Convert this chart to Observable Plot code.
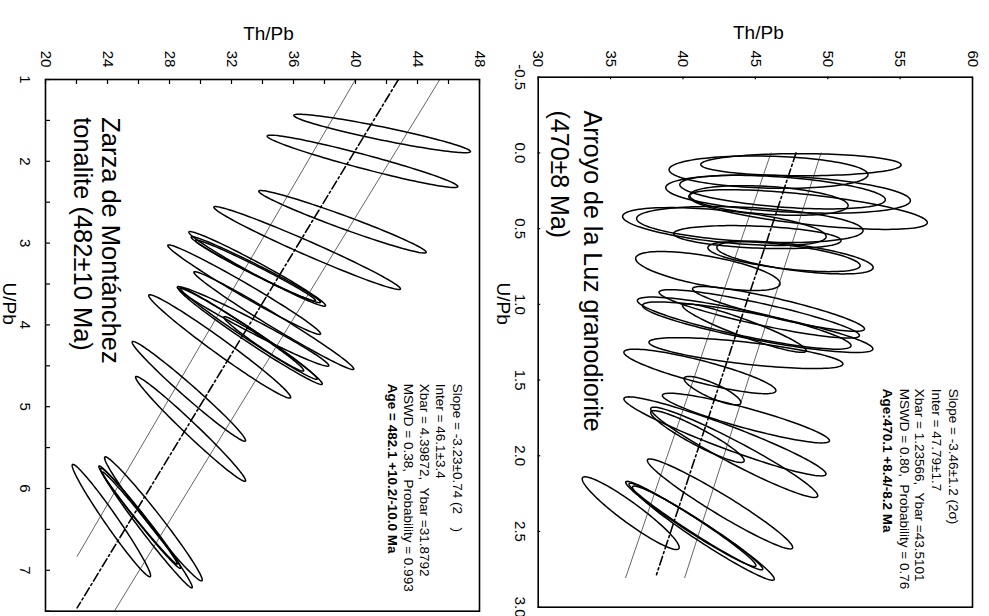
<!DOCTYPE html>
<html><head><meta charset="utf-8">
<script src="https://cdn.jsdelivr.net/npm/d3@7"></script>
<script src="https://cdn.jsdelivr.net/npm/@observablehq/plot@0.6"></script>
<style>
body{margin:0;background:#fff;}
#wrap{position:relative;width:989px;height:616px;overflow:hidden;background:#fff;}
#wrap svg{position:absolute;top:0;overflow:visible;}
</style></head><body><div id="wrap"></div>
<script>
// ---------- Zarza de Montánchez tonalite (left panel) ----------
// error ellipses: centre Th/Pb, centre U/Pb, half-range Th/Pb, half-range U/Pb, correlation
const zarzaTh  = [41.72, 40.45, 39.16, 36.88, 33.66, 33.57, 33.55, 32.82, 34.73, 33.39, 33.22, 33.12, 31.24, 34.08, 29.25, 29.36, 24.25, 26.08, 26.51, 26.96, 26.08];
const zarzaU   = [1.66, 2.00, 2.739, 3.06, 3.315, 3.325, 3.335, 3.569, 3.947, 4.018, 4.138, 4.107, 4.263, 4.232, 4.812, 5.271, 6.392, 6.35, 6.483, 6.371, 6.361];
const zarzaSTh = [5.70, 6.15, 5.40, 6.02, 4.41, 4.17, 3.87, 4.93, 5.16, 4.89, 4.64, 4.41, 4.58, 2.58, 3.66, 3.55, 2.53, 2.64, 2.96, 3.15, 2.42];
const zarzaSU  = [0.235, 0.320, 0.382, 0.507, 0.456, 0.403, 0.372, 0.547, 0.598, 0.487, 0.590, 0.558, 0.632, 0.333, 0.610, 0.641, 0.687, 0.626, 0.732, 0.758, 0.564];
const zarzaRho = [0.938, 0.961, 0.975, 0.983, 0.983, 0.9855, 0.986, 0.986, 0.988, 0.983, 0.987, 0.9895, 0.984, 0.980, 0.985, 0.9855, 0.980, 0.990, 0.9885, 0.9837, 0.9929];
// regression line and error envelope (end points: Th/Pb, U/Pb)
const zarzaFitTh = [42.77, 22.04], zarzaFitU = [1.0, 7.46];
const zarzaLoTh  = [40.0, 22.04],  zarzaLoU  = [1.0, 6.83];
const zarzaHiTh  = [45.44, 24.44], zarzaHiU  = [1.0, 7.5];
const zarzaThTicks = [20,22,24,26,28,30,32,34,36,38,40,42,44,46,48];
const zarzaThLabels = [20,24,28,32,36,40,44,48];
const zarzaUTicks = [1,1.5,2,2.5,3,3.5,4,4.5,5,5.5,6,6.5,7,7.5];
const zarzaULabels = [1,2,3,4,5,6,7];
const zarzaTitle = ["Zarza de Montánchez", "tonalite (482±10 Ma)"];
const zarzaStats = ["Slope = -3.23±0.74 (2\u2002\u2002)", "Inter = 46.1±3.4", "Xbar = 4.39872,  Ybar =31.8792", "MSWD = 0.38,  Probability = 0.993", "Age = 482.1 +10.2/-10.0 Ma"];

// ---------- Arroyo de la Luz granodiorite (right panel) ----------
const arroyoTh  = [48.15, 45.91, 47.26, 46.88, 48.64, 45.94, 42.86, 44.62, 45.14, 46.98, 47.74, 41.72, 44.23, 45.16, 45.27, 46.60, 44.24, 41.17, 44.35, 42.04, 44.35, 42.90, 43.54, 41.00, 42.56, 36.39, 40.54, 41.41, 40.89];
const arroyoU   = [0.078, 0.127, 0.272, 0.259, 0.374, 0.314, 0.486, 0.473, 0.556, 0.685, 0.691, 0.780, 1.124, 1.151, 1.063, 1.030, 1.157, 1.443, 1.322, 1.570, 1.751, 1.872, 1.977, 1.873, 2.318, 2.379, 2.450, 2.511, 2.467];
const arroyoSTh = [6.92, 6.87, 8.45, 7.10, 8.24, 5.47, 7.03, 7.82, 5.78, 5.26, 5.40, 4.99, 7.38, 7.96, 6.92, 5.94, 4.27, 5.25, 6.70, 1.96, 5.77, 6.98, 5.77, 3.23, 5.02, 3.35, 4.50, 4.90, 4.62];
const arroyoSU  = [0.073, 0.107, 0.126, 0.111, 0.131, 0.098, 0.125, 0.119, 0.076, 0.099, 0.108, 0.129, 0.172, 0.167, 0.160, 0.148, 0.160, 0.147, 0.102, 0.094, 0.164, 0.261, 0.298, 0.171, 0.297, 0.240, 0.281, 0.311, 0.286];
const arroyoRho = [0.02, 0.154, 0.34, 0.45, 0.655, 0.34, 0.53, 0.33, 0.30, 0.60, 0.61, 0.64, 0.866, 0.857, 0.891, 0.894, 0.928, 0.86, 0.70, 0.83, 0.91, 0.95, 0.961, 0.93, 0.966, 0.941, 0.978, 0.974, 0.981];
const arroyoFitTh = [47.81, 38.17], arroyoFitU = [0.0, 2.785];
const arroyoLoTh  = [46.08, 36.04], arroyoLoU  = [0.0, 2.805];
const arroyoHiTh  = [49.54, 40.12], arroyoHiU  = [0.0, 2.805];
const arroyoThTicks = [30,35,40,45,50,55,60];
const arroyoThLabels = [30,35,40,45,50,55,60];
const arroyoUTicks = [-0.5,0,0.5,1,1.5,2,2.5,3];
const arroyoULabels = [-0.5,0,0.5,1,1.5,2,2.5,3];
const arroyoTitle = ["Arroyo de la Luz granodiorite", "(470±8 Ma)"];
const arroyoStats = ["Slope = -3.46±1.2 (2σ)", "Inter = 47.79±1.7", "Xbar = 1.23566,  Ybar =43.5101", "MSWD = 0.80,  Probability = 0.76", "Age:470.1 +8.4/-8.2 Ma"];

const FONT = "'Liberation Sans', Arial, Helvetica, sans-serif";

function ellipseRows(cTh, cU, sTh, sU, rho) {
  const rows = [];
  for (let i = 0; i < cTh.length; i++) {
    const k = Math.sqrt(1 - rho[i] * rho[i]);
    for (let j = 0; j <= 120; j++) {
      const t = 2 * Math.PI * j / 120;
      rows.push({id: i, th: cTh[i] + sTh[i] * Math.cos(t), u: cU[i] + sU[i] * (rho[i] * Math.cos(t) + k * Math.sin(t))});
    }
  }
  return rows;
}
const seg = (th, u) => th.map((d, i) => ({th: d, u: u[i]}));

function panel(o) {
  const frameW = o.width - o.ml - o.mr, frameH = o.height - o.mt - o.mb;
  const marks = [
    Plot.line(ellipseRows(o.cTh, o.cU, o.sTh, o.sU, o.rho), {x: "th", y: "u", z: "id", stroke: "#000", strokeWidth: 1.5, clip: true}),
    Plot.line(seg(o.loTh, o.loU), {x: "th", y: "u", stroke: "#222", strokeWidth: 0.7, clip: true}),
    Plot.line(seg(o.hiTh, o.hiU), {x: "th", y: "u", stroke: "#222", strokeWidth: 0.7, clip: true}),
    Plot.line(seg(o.fitTh, o.fitU), {x: "th", y: "u", stroke: "#000", strokeWidth: 1.6, strokeDasharray: "9,3,2,3", clip: true}),
    Plot.ruleX(o.thTicks, {x: d => d, insetBottom: frameH - o.tickLen, stroke: "#000", strokeWidth: 1.2}),
    Plot.ruleY(o.uTicks, {y: d => d, insetRight: frameW - o.tickLen, stroke: "#000", strokeWidth: 1.2}),
    Plot.frame({stroke: "#000", strokeWidth: 1.6}),
    Plot.text(o.thLabels, {x: d => d, frameAnchor: "top", dy: o.thLabDy, rotate: 90, textAnchor: "middle", lineAnchor: "middle", fontSize: 15, text: d => String(d), fill: "#000"}),
    Plot.text(o.uLabels, {y: d => d, frameAnchor: "left", dx: o.uLabDx, rotate: 90, textAnchor: "middle", lineAnchor: "middle", fontSize: 15, text: o.uFmt, fill: "#000"}),
    Plot.text(["Th/Pb"], {frameAnchor: "top", dx: o.thTitleDx, dy: o.thTitleDy, lineAnchor: "middle", fontSize: 19, fill: "#000"}),
    Plot.text(["U/Pb"], {y: o.uTitleU, frameAnchor: "left", dx: o.uTitleDx, rotate: 90, textAnchor: "middle", lineAnchor: "middle", fontSize: 19, fill: "#000"}),
    Plot.text([o.title[0]], {x: o.titleX[0], y: o.titleU, rotate: 90, textAnchor: "start", lineAnchor: "middle", fontSize: o.titleSize, fill: "#000"}),
    Plot.text([o.title[1]], {x: o.titleX[1], y: o.titleU, rotate: 90, textAnchor: "start", lineAnchor: "middle", fontSize: o.titleSize, fill: "#000"})
  ];
  o.stats.forEach((s, i) => {
    marks.push(Plot.text([s], {x: o.statsX[i], y: o.statsU, rotate: 90, textAnchor: "start", lineAnchor: "middle", fontSize: 13.5, fontWeight: i === 4 ? "bold" : "normal", fill: "#000"}));
  });
  const svg = Plot.plot({
    width: o.width, height: o.height,
    marginLeft: o.ml, marginRight: o.mr, marginTop: o.mt, marginBottom: o.mb,
    x: {domain: o.xDomain, axis: null},
    y: {domain: o.yDomain, reverse: true, axis: null},
    style: {fontFamily: FONT, background: "transparent", overflow: "visible", color: "#000"},
    marks
  });
  svg.style.left = o.left + "px";
  return svg;
}

const wrap = document.getElementById("wrap");
wrap.appendChild(panel({
  left: 0, width: 490, height: 616, ml: 45, mr: 11, mt: 79, mb: 5.3,
  xDomain: [20, 48], yDomain: [1, 7.5],
  cTh: zarzaTh, cU: zarzaU, sTh: zarzaSTh, sU: zarzaSU, rho: zarzaRho,
  fitTh: zarzaFitTh, fitU: zarzaFitU, loTh: zarzaLoTh, loU: zarzaLoU, hiTh: zarzaHiTh, hiU: zarzaHiU,
  thTicks: zarzaThTicks, uTicks: zarzaUTicks, tickLen: 5,
  thLabels: zarzaThLabels, uLabels: zarzaULabels, uFmt: d => String(d),
  thLabDy: -20.5, uLabDx: -21, thTitleDx: 6, thTitleDy: -46, uTitleDx: -36.5, uTitleU: 3.74,
  title: zarzaTitle, titleX: [24.19, 22.37], titleU: 1.46, titleSize: 25.5,
  stats: zarzaStats, statsX: [46.56, 45.48, 44.41, 43.44, 42.37], statsU: 4.72
}));
wrap.appendChild(panel({
  left: 490, width: 499, height: 616, ml: 47.7, mr: 17, mt: 76.7, mb: 9.3,
  xDomain: [30, 60], yDomain: [-0.5, 3.0],
  cTh: arroyoTh, cU: arroyoU, sTh: arroyoSTh, sU: arroyoSU, rho: arroyoRho,
  fitTh: arroyoFitTh, fitU: arroyoFitU, loTh: arroyoLoTh, loU: arroyoLoU, hiTh: arroyoHiTh, hiU: arroyoHiU,
  thTicks: arroyoThTicks, uTicks: arroyoUTicks, tickLen: 2.5,
  thLabels: arroyoThLabels, uLabels: arroyoULabels, uFmt: d => d.toFixed(1),
  thLabDy: -18.4, uLabDx: -18.2, thTitleDx: 3, thTitleDy: -44, uTitleDx: -34.7, uTitleU: 0.995,
  title: arroyoTitle, titleX: [33.74, 31.43], titleU: -0.28, titleSize: 25,
  stats: arroyoStats, statsX: [58.65, 57.49, 56.34, 55.30, 54.15], statsU: 1.558
}));
</script></body></html>
